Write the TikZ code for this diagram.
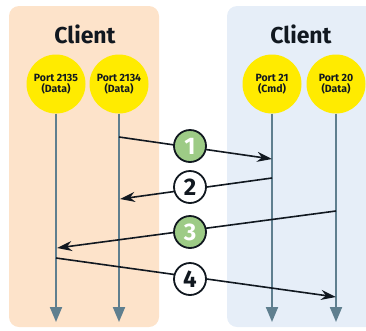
\documentclass[tikz,border=0pt]{standalone}
\usepackage{fontspec}
\setmainfont{Fira Sans}
\usetikzlibrary{arrows.meta}
\definecolor{peach}{HTML}{FDE3CA}
\definecolor{lblue}{HTML}{E6EEF8}
\definecolor{yel}{HTML}{FFEB00}
\definecolor{grn}{HTML}{9DCB86}
\definecolor{life}{HTML}{5F7F8F}
\definecolor{ink}{HTML}{111820}
\begin{document}
\begin{tikzpicture}[x=1pt,y=-1pt,
  port/.style={circle,fill=yel,minimum size=59pt,inner sep=0pt,align=center,font=\fontsize{10.5}{11}\selectfont\bfseries,text=ink},
  title/.style={font=\fontsize{23}{26}\selectfont\bfseries,text=ink},
  lifeline/.style={draw=life,line width=2pt,-{Triangle[length=15pt,width=12pt]}},
  msg/.style={draw=ink,line width=1.6pt,-{Stealth[length=15pt,width=10pt]}},
  numg/.style={circle,draw=ink,line width=1.8pt,fill=grn,minimum size=32pt,inner sep=0pt,text=white,font=\fontsize{24}{24}\selectfont\bfseries},
  numw/.style={circle,draw=ink,line width=1.8pt,fill=white,minimum size=32pt,inner sep=0pt,text=ink,font=\fontsize{24}{24}\selectfont\bfseries}]
\useasboundingbox (0,0) rectangle (366,330);
\fill[peach,rounded corners=10pt] (9,6) rectangle (159,327);
\fill[lblue,rounded corners=10pt] (227,6) rectangle (380,327);
\node[title] (t1) at (85,34) {Client};
\node[title] (t2) at (301,34) {Client};
\node[port] (p1) at (56,84) {Port 2135\\(Data)};
\node[port] (p2) at (119,84) {Port 2134\\(Data)};
\node[port] (p3) at (272,84) {Port 21\\(Cmd)};
\node[port] (p4) at (336,84) {Port 20\\(Data)};
\coordinate (e1) at (56,322);
\coordinate (e2) at (119,322);
\coordinate (e3) at (272,322);
\coordinate (e4) at (336,322);
\draw[lifeline] (p1) -- (e1);
\draw[lifeline] (p2) -- (e2);
\draw[lifeline] (p3) -- (e3);
\draw[lifeline] (p4) -- (e4);
\coordinate (a1) at (119,137); \coordinate (b1) at (272,159);
\coordinate (a2) at (272,178); \coordinate (b2) at (120,199);
\coordinate (a3) at (336,211); \coordinate (b3) at (57,248);
\coordinate (a4) at (56,258); \coordinate (b4) at (336,297);
\draw[msg] (a1) -- (b1);
\draw[msg] (a2) -- (b2);
\draw[msg] (a3) -- (b3);
\draw[msg] (a4) -- (b4);
\node[numg] (n1) at (190,146) {1};
\node[numw] (n2) at (190,187) {2};
\node[numg] (n3) at (190,232) {3};
\node[numw] (n4) at (190,279) {4};
\end{tikzpicture}
\end{document}
